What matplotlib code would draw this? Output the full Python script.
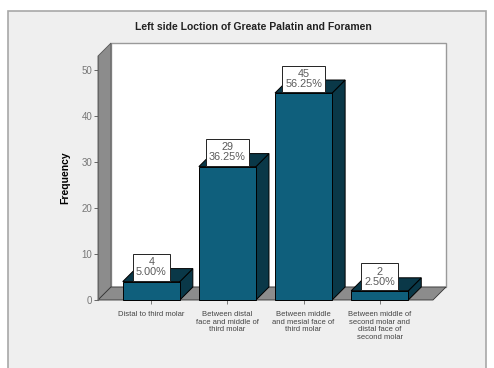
import matplotlib.pyplot as plt
from matplotlib.patches import Polygon, Rectangle

# data
categories = ['Distal to third molar',
              'Between distal\nface and middle of\nthird molar',
              'Between middle\nand mesial face of\nthird molar',
              'Between middle of\nsecond molar and\ndistal face of\nsecond molar']
counts = [4, 29, 45, 2]
percents = ['5.00%', '36.25%', '56.25%', '2.50%']
yticks = [0, 10, 20, 30, 40, 50]
title = 'Left side Loction of Greate Palatin and Foramen'

FRONT = '#0f5f7c'
SIDE = '#0a3848'
WALL = '#8c8c8c'
BG = '#efefef'

plt.rcParams['font.family'] = ['Liberation Sans', 'DejaVu Sans']

fig = plt.figure(figsize=(4.94, 3.68), dpi=100)
fig.patch.set_facecolor('white')
fig.patches.append(Rectangle((8 / 494, -0.01), 478 / 494, (368 - 11) / 368 + 0.01,
                             transform=fig.transFigure, facecolor=BG,
                             edgecolor='#a8a8a8', linewidth=1.2, zorder=-10))

W, H = 494, 368
ax = fig.add_axes([98 / W, (H - 300) / H, (433 - 98) / W, (300 - 56) / H])
ax.set_facecolor('none')

xlo, xhi = -0.7, len(counts) - 0.3
ytop = 244 / 4.6
ax.set_xlim(xlo, xhi)
ax.set_ylim(0, ytop)
dx = 13 / (335 / (xhi - xlo))
dy = 13 / 4.6
bw = 0.75

for s in ax.spines.values():
    s.set_visible(False)
ax.spines['left'].set_visible(True)
ax.spines['left'].set_color('#666666')
ax.spines['left'].set_linewidth(0.8)

# back wall, left wall, floor
ax.add_patch(Polygon([(xlo + dx, dy), (xhi + dx, dy), (xhi + dx, ytop + dy), (xlo + dx, ytop + dy)],
                     closed=True, facecolor='white', edgecolor='#9a9a9a', lw=1.0,
                     clip_on=False, zorder=1))
ax.add_patch(Polygon([(xlo, 0), (xlo + dx, dy), (xlo + dx, ytop + dy), (xlo, ytop)],
                     closed=True, facecolor=WALL, edgecolor='#555555', lw=0.6,
                     clip_on=False, zorder=2))
ax.add_patch(Polygon([(xlo, 0), (xhi, 0), (xhi + dx, dy), (xlo + dx, dy)],
                     closed=True, facecolor=WALL, edgecolor='#333333', lw=0.6,
                     clip_on=False, zorder=2))

for i, v in enumerate(counts):
    l, r = i - bw / 2, i + bw / 2
    ax.add_patch(Polygon([(r, 0), (r + dx, dy), (r + dx, v + dy), (r, v)],
                         closed=True, facecolor=SIDE, edgecolor='black', lw=0.7,
                         clip_on=False, zorder=3))
    ax.add_patch(Polygon([(l, v), (r, v), (r + dx, v + dy), (l + dx, v + dy)],
                         closed=True, facecolor=SIDE, edgecolor='black', lw=0.7,
                         clip_on=False, zorder=3))
    ax.add_patch(Rectangle((l, 0), bw, v, facecolor=FRONT, edgecolor='black',
                           lw=0.7, clip_on=False, zorder=4))
    ax.text(i, v + 0.9, f'{v}\n{percents[i]}', ha='center', va='bottom',
            fontsize=7.8, color='#5a5a5a', linespacing=1.0, zorder=6,
            bbox=dict(boxstyle='square,pad=0.3', facecolor='white',
                      edgecolor='#222222', lw=0.7))

ax.set_yticks(yticks)
ax.set_yticklabels([str(t) for t in yticks], fontsize=7, color='#777777')
ax.tick_params(axis='y', length=3, width=0.7, color='#666666', pad=1)
ax.set_xticks(range(len(categories)))
ax.set_xticklabels(categories, fontsize=5.5, color='#444444', linespacing=1.1, va='top')
ax.tick_params(axis='x', length=3, width=0.6, color='#666666', pad=5)
ax.set_ylabel('Frequency', fontsize=7.5, fontweight='bold', labelpad=8)

fig.text(253 / W, 1 - 27 / H, title, ha='center', va='center',
         fontsize=7.5, fontweight='bold', color='#222222')

fig.savefig('out.png', dpi=100, facecolor=fig.get_facecolor())
